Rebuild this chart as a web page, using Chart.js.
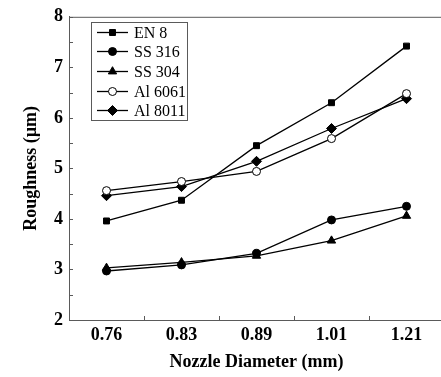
<!DOCTYPE html>
<html>
<head>
<meta charset="utf-8">
<script src="https://cdn.jsdelivr.net/npm/chart.js@4.4.0/dist/chart.umd.min.js"></script>
<style>
  html, body { margin: 0; padding: 0; background: #fff; overflow: hidden; }
  #chart { display: block; }
</style>
</head>
<body>
<canvas id="chart" width="450" height="377"></canvas>
<script>
// Roughness vs nozzle diameter for each material
const diameters = ["0.76", "0.83", "0.89", "1.01", "1.21"];
const en8 = [3.96, 4.37, 5.45, 6.30, 7.42];
const ss316 = [2.97, 3.09, 3.32, 3.98, 4.25];
const ss304 = [3.03, 3.14, 3.27, 3.57, 4.06];
const al6061 = [4.56, 4.74, 4.94, 5.59, 6.48];
const al8011 = [4.46, 4.64, 5.14, 5.79, 6.38];

const axisColor = "#5a5a5a";
const serif = "'Liberation Serif', 'Times New Roman', serif";

function series(label, data, style, radius, fill) {
    return {
        label: label,
        data: data,
        borderColor: "#000",
        borderWidth: 1.3,
        pointStyle: style,
        pointRadius: radius,
        pointBackgroundColor: fill,
        pointBorderColor: "#000",
        pointBorderWidth: 1,
        tension: 0
    };
}

// inner tick marks, top frame line and the boxed legend
const framePlugin = {
    id: "frame",
    afterDraw(chart) {
        const ctx = chart.ctx;
        const area = chart.chartArea;
        const x = chart.scales.x;
        const y = chart.scales.y;
        ctx.save();
        ctx.strokeStyle = axisColor;
        ctx.lineWidth = 1;
        ctx.beginPath();
        ctx.moveTo(area.left, area.top + 0.5);
        ctx.lineTo(area.right, area.top + 0.5);
        for (let v = y.min; v <= y.max; v += 0.5) {
            const py = Math.round(y.getPixelForValue(v)) + 0.5;
            ctx.moveTo(area.left, py);
            ctx.lineTo(area.left + 4, py);
        }
        for (let i = 0; i < diameters.length - 1; i++) {
            const px = Math.round((x.getPixelForValue(i) + x.getPixelForValue(i + 1)) / 2) + 0.5;
            ctx.moveTo(px, area.bottom);
            ctx.lineTo(px, area.bottom - 4);
        }
        ctx.stroke();

        // legend
        const boxX = 91, boxY = 22, boxW = 96, rowH = 19.6;
        const sets = chart.data.datasets;
        ctx.strokeStyle = axisColor;
        ctx.strokeRect(boxX + 0.5, boxY + 0.5, boxW, Math.round(rowH * sets.length));
        ctx.font = "16px " + serif;
        ctx.textBaseline = "middle";
        ctx.fillStyle = "#000";
        sets.forEach((ds, i) => {
            const cy = Math.round(boxY + rowH * i + rowH / 2) + 0.5;
            ctx.strokeStyle = "#000";
            ctx.lineWidth = 1.3;
            ctx.beginPath();
            ctx.moveTo(boxX + 6, cy);
            ctx.lineTo(boxX + 37, cy);
            ctx.stroke();
            ctx.fillStyle = ds.pointBackgroundColor;
            ctx.lineWidth = 1;
            Chart.helpers.drawPoint(ctx, {
                pointStyle: ds.pointStyle, radius: ds.pointRadius, borderWidth: 1
            }, boxX + 21.5, cy);
            ctx.fillStyle = "#000";
            ctx.fillText(ds.label, boxX + 43, cy + 1);
        });
        ctx.restore();
    }
};

new Chart(document.getElementById("chart"), {
    type: "line",
    data: {
        labels: diameters,
        datasets: [
            series("EN 8", en8, "rect", 4.2, "#000"),
            series("SS 316", ss316, "circle", 4, "#000"),
            series("SS 304", ss304, "triangle", 4.8, "#000"),
            series("Al 6061", al6061, "circle", 4, "#fff"),
            series("Al 8011", al8011, "rectRot", 5, "#000")
        ]
    },
    options: {
        responsive: false,
        animation: false,
        layout: { padding: { top: 8, right: 4, left: 0, bottom: 0 } },
        plugins: {
            legend: { display: false },
            tooltip: { enabled: false }
        },
        scales: {
            x: {
                offset: true,
                grid: { display: false, offset: true, drawTicks: false },
                border: { display: true, color: axisColor, width: 1 },
                ticks: {
                    color: "#000",
                    padding: 5,
                    font: { family: serif, size: 18, weight: "bold" }
                },
                title: {
                    display: true,
                    text: "Nozzle Diameter (mm)",
                    color: "#000",
                    padding: { top: 0, bottom: 4 },
                    font: { family: serif, size: 18, weight: "bold" }
                },
                afterFit(scale) { scale.height = 57; }
            },
            y: {
                min: 2,
                max: 8,
                grid: { display: false, drawTicks: false },
                border: { display: true, color: axisColor, width: 1 },
                ticks: {
                    stepSize: 1,
                    color: "#000",
                    padding: 6,
                    font: { family: serif, size: 18, weight: "bold" }
                },
                title: {
                    display: true,
                    text: "Roughness (µm)",
                    color: "#000",
                    padding: { top: 21, bottom: 0 },
                    font: { family: serif, size: 18, weight: "bold" }
                },
                afterFit(scale) { scale.width = 69; }
            }
        }
    },
    plugins: [framePlugin]
});
</script>
</body>
</html>
